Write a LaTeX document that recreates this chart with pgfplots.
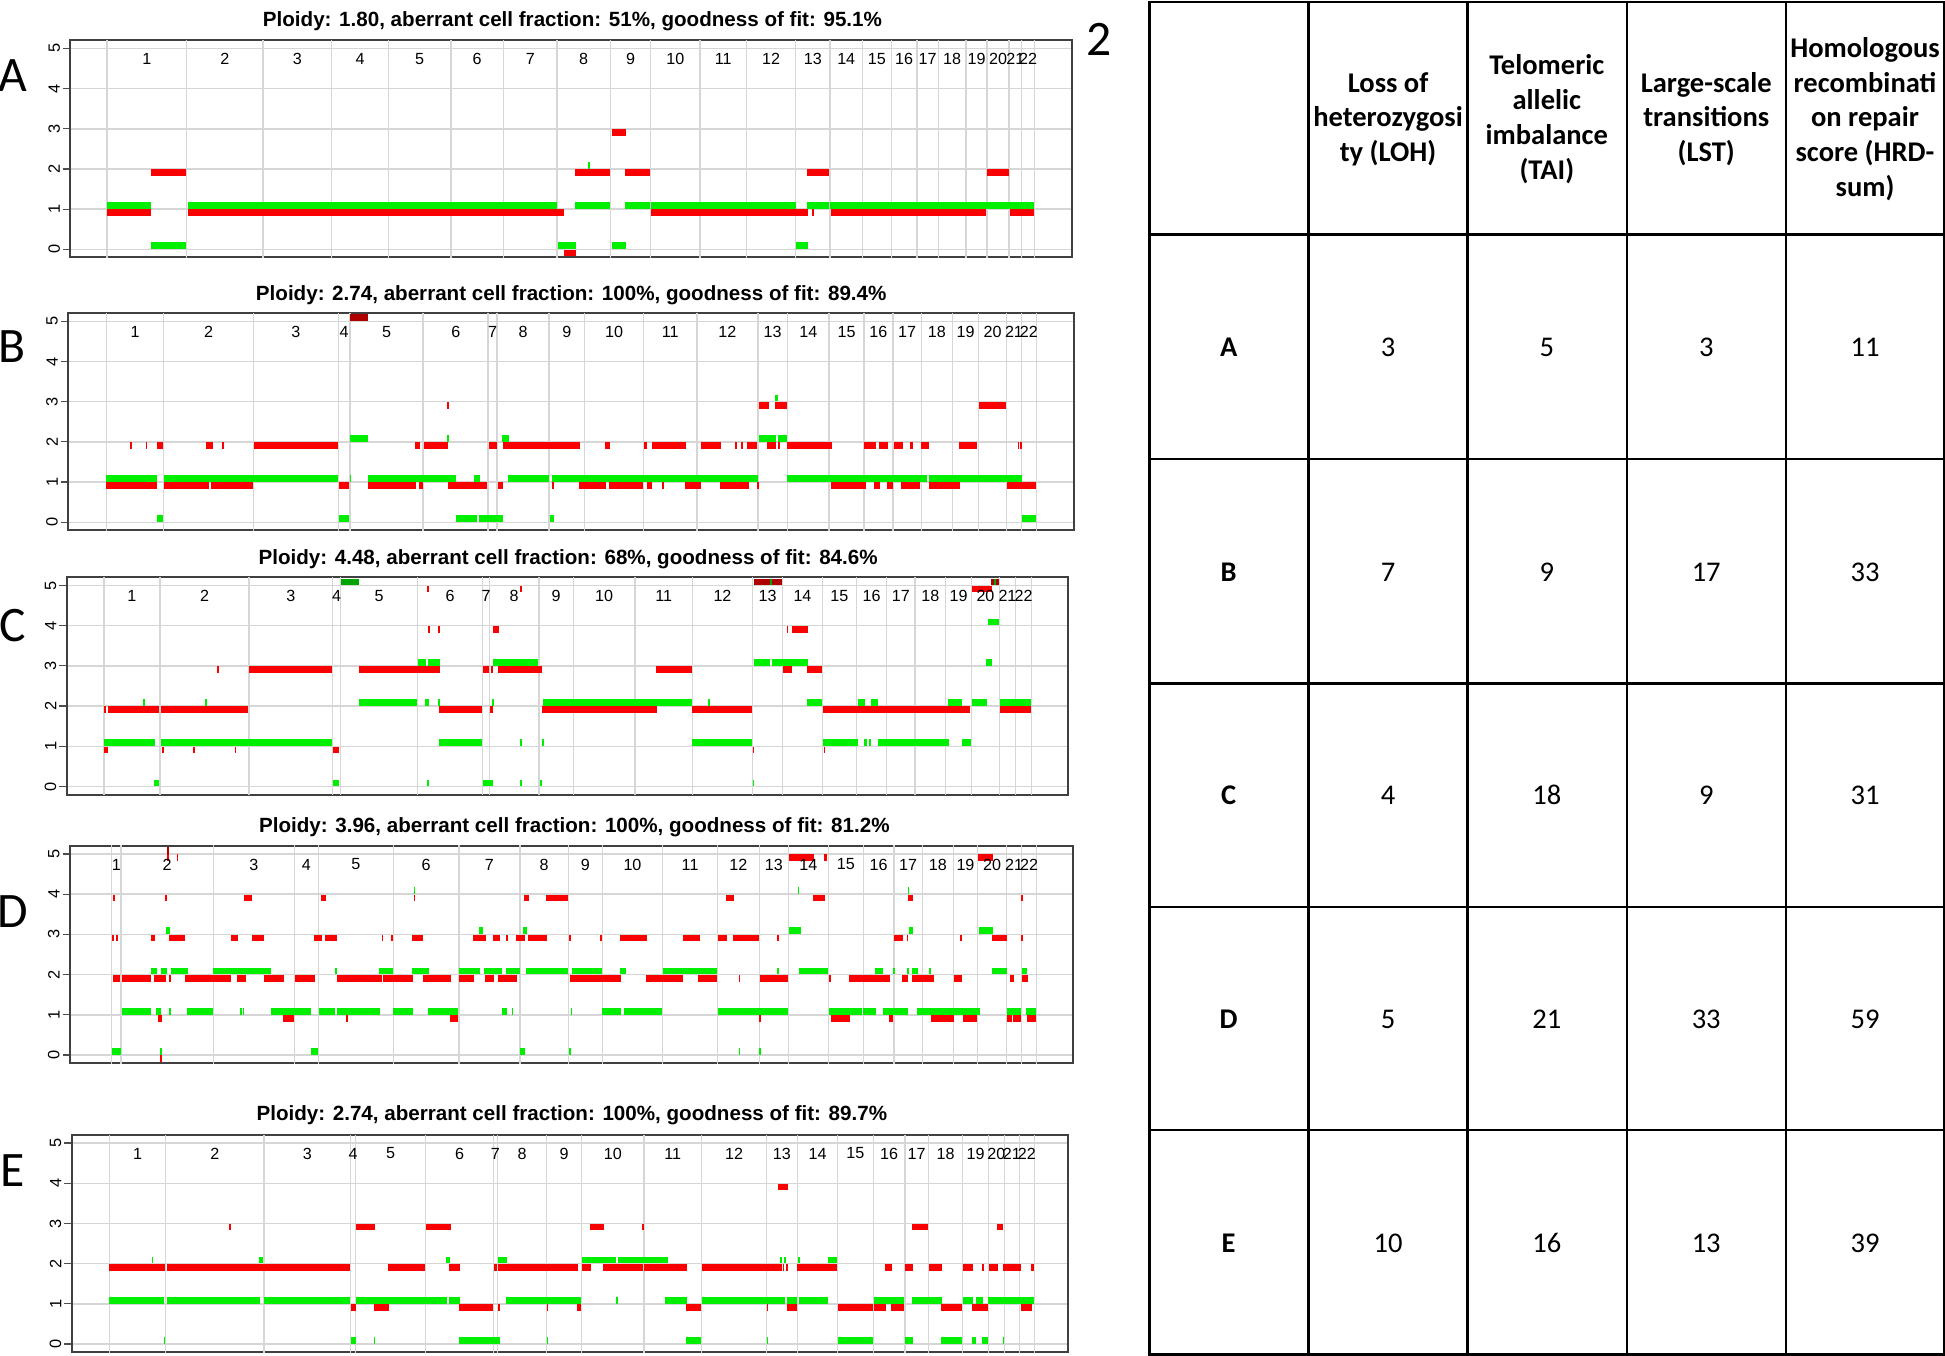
\documentclass[border=0pt]{standalone}
\usepackage{fontspec}
\usepackage{pgfplots}
\usepackage{pgfplotstable}
\pgfplotsset{compat=1.18}
\setmainfont{Liberation Sans}
\newfontfamily\calibri{Carlito}

\definecolor{cnred}{RGB}{250,0,0}
\definecolor{cngreen}{RGB}{0,238,0}
\definecolor{cndred}{RGB}{175,0,0}
\definecolor{cndgreen}{RGB}{0,165,0}
\definecolor{gridgray}{RGB}{214,214,214}

% ---------- chromosome boundaries (c = chromosome, s/e = start/end) ----------
\pgfplotstableread{
c s e
1 86.4 150.3
2 150.3 212.2
3 212.2 267.2
4 267.2 313.3
5 313.3 363.4
6 363.4 406.0
7 406.0 449.1
8 449.1 492.0
9 492.0 524.6
10 524.6 564.3
11 564.3 601.7
12 601.7 641.5
13 641.5 669.1
14 669.1 695.3
15 695.3 718.6
16 718.6 739.1
17 739.1 756.4
18 756.4 778.8
19 778.8 795.8
20 795.8 813.6
21 813.6 823.5
22 823.5 834.1
}\Alab
\pgfplotstableread{
c s e
1 85.8 131.9
2 131.9 204.4
3 204.4 272.7
4 272.7 282.2
5 282.2 341.2
6 341.2 393.6
7 393.6 400.8
8 400.8 442.5
9 442.5 471.3
10 471.3 518.8
11 518.8 562.0
12 562.0 610.9
13 610.9 634.8
14 634.8 668.5
15 668.5 696.5
16 696.5 719.8
17 719.8 742.8
18 742.8 767.9
19 767.9 788.9
20 788.9 811.4
21 811.4 823.5
22 823.5 835.5
}\Blab
\pgfplotstableread{
c s e
1 83.8 129.0
2 129.0 200.7
3 200.7 268.2
4 268.2 274.6
5 274.6 336.7
6 336.7 389.1
7 389.1 394.5
8 394.5 434.5
9 434.5 462.2
10 462.2 511.9
11 511.9 558.1
12 558.1 606.8
13 606.8 631.0
14 631.0 662.9
15 662.9 690.6
16 690.6 714.8
17 714.8 737.6
18 737.6 762.4
19 762.4 783.3
20 783.3 805.6
21 805.6 818.8
22 818.8 831.7
}\Clab
\pgfplotstableread{
c s e
1 90.0 97.6
2 97.6 172.0
3 172.0 237.3
4 237.3 256.6
5 256.6 317.1
6 317.1 370.0
7 370.0 419.2
8 419.2 458.2
9 458.2 485.6
10 485.6 534.2
11 534.2 578.5
12 578.5 612.1
13 612.1 635.5
14 635.5 667.8
15 667.8 696.0
16 696.0 720.7
17 720.7 743.5
18 743.5 768.5
19 768.5 788.2
20 788.2 811.5
21 811.5 823.6
22 823.6 835.7
}\Dlab
\pgfplotstableread{
c s e
1 88.1 133.6
2 133.6 212.8
3 212.8 282.7
4 282.7 286.7
5 286.7 343.2
6 343.2 397.7
7 397.7 401.0
8 401.0 440.7
9 440.7 468.9
10 468.9 519.2
11 519.2 565.6
12 565.6 618.0
13 618.0 642.8
14 642.8 675.3
15 675.3 704.0
16 704.0 729.6
17 729.6 748.4
18 748.4 776.1
19 776.1 796.8
20 796.8 809.7
21 809.7 821.7
22 821.7 833.8
}\Elab

% ---------- segments: a = start, b = end, v = copy number ----------
% panel A
\pgfplotstableread{
a b v
86.4 121.5 1
121.5 150.3 2
151.2 454.3 1
454.3 464.1 0
463.5 492.0 2
493.0 504.4 3
503.5 524.0 2
524.6 651.2 1
650.7 668.5 2
655.0 656.0 1
670.0 795.2 1
796.0 813.6 2
814.2 833.5 1
}\Ared
\pgfplotstableread{
a b v
86.4 121.5 1
121.5 150.3 0
151.2 449.1 1
449.7 464.1 0
463.5 492.0 1
474.2 475.2 2
493.0 504.4 0
503.5 524.0 1
524.6 641.5 1
642.0 651.2 0
650.7 668.5 1
669.1 833.5 1
}\Agreen
% panel B
\pgfplotstableread{
a b v
85.8 126.7 1
105.2 106.4 2
117.5 118.7 2
126.7 131.6 2
132.5 168.4 1
170.5 203.9 1
166.4 171.6 2
179.2 180.4 2
205.0 272.4 2
273.0 281.6 1
296.6 335.4 1
337.5 341.2 1
334.9 338.3 2
341.8 360.8 2
360.4 361.4 3
360.8 393.0 1
394.2 400.8 2
401.7 405.4 1
405.1 467.5 2
445.2 446.4 1
466.4 488.6 1
490.9 518.2 1
521.7 526.0 1
533.5 534.7 1
551.9 565.4 1
580.7 603.7 1
610.5 611.7 1
488.0 491.4 2
518.8 521.7 2
526.0 552.8 2
564.9 581.6 2
592.6 593.8 2
597.5 598.7 2
602.3 610.4 2
611.5 619.6 3
624.5 634.5 3
618.7 625.3 2
627.1 628.3 2
634.8 670.8 2
670.0 697.9 1
696.7 706.5 2
708.9 716.0 2
720.4 727.6 2
733.3 736.2 2
742.8 749.2 2
704.5 709.4 1
715.2 719.8 1
726.7 742.0 1
748.6 773.6 1
772.8 788.0 2
788.9 811.1 3
820.3 821.3 2
822.3 823.3 2
811.9 835.5 1
}\Bred
\pgfplotstableread{
a b v
85.8 126.7 1
126.7 131.6 0
132.5 272.4 1
273.0 281.6 0
281.8 282.8 1
282.2 296.6 2
296.6 368.0 1
360.4 361.4 2
368.0 384.4 0
386.4 405.4 0
382.4 387.3 1
404.8 410.3 2
409.4 442.8 1
443.4 446.3 0
445.4 610.9 1
611.5 625.3 2
626.8 634.5 2
624.8 626.8 3
634.8 747.7 1
748.6 823.5 1
824.0 835.5 0
}\Bgreen
\pgfplotstableread{
a b v
282.2 296.6 5
}\Bdred
% panel C
\pgfplotstableread{
a b v
84.1 87.3 1
84.2 85.2 2
86.8 128.5 2
129.5 200.2 2
130.6 131.6 1
155.9 156.9 1
189.2 190.2 1
175.0 176.2 3
201.0 268.0 3
268.7 273.6 1
289.4 354.7 3
345.0 346.0 4
353.2 354.2 4
344.4 345.4 5
354.2 388.6 2
389.7 394.0 3
395.0 397.7 2
397.7 402.0 4
396.2 397.6 3
401.7 437.2 3
419.4 420.4 5
436.7 529.4 2
528.8 557.6 3
558.1 606.0 2
606.8 607.8 1
638.2 651.1 4
634.2 635.2 4
631.0 638.7 3
650.6 662.4 3
663.7 782.0 2
664.0 665.0 1
783.3 799.4 5
806.2 831.2 2
}\Cred
\pgfplotstableread{
a b v
84.1 125.0 1
115.6 116.6 2
124.2 128.5 0
129.5 268.0 1
165.3 166.6 2
268.7 273.6 0
289.4 336.0 2
336.7 343.4 3
345.3 354.7 3
342.6 345.9 2
344.4 345.4 0
353.2 354.2 2
354.2 388.6 1
389.7 397.7 0
396.8 397.8 2
397.7 434.0 3
419.4 420.4 1
419.4 420.4 0
435.3 437.2 0
437.2 438.4 1
438.0 557.6 2
570.5 572.0 2
558.1 606.0 1
606.8 607.6 0
607.8 620.7 3
622.6 651.1 3
650.6 662.4 2
663.7 692.0 1
696.8 698.7 1
700.5 702.2 1
707.5 765.3 1
775.3 782.8 1
692.0 697.3 2
702.2 707.5 2
764.5 775.8 2
783.3 795.4 2
794.9 799.4 3
796.2 805.3 4
806.2 831.2 2
}\Cgreen
\pgfplotstableread{
a b v
607.8 630.1 5
798.9 805.3 5
}\Cdred
\pgfplotstableread{
a b v
274.6 289.7 5
621.0 622.4 5
801.5 802.8 5
}\Cdgreen
% panel D
\pgfplotstableread{
a b v
90.8 96.7 2
90.3 91.3 3
93.6 94.6 3
91.4 92.4 4
98.1 121.7 2
124.4 133.8 2
136.3 138.1 2
149.2 171.5 2
127.1 130.3 1
129.0 130.0 0
121.5 125.2 3
136.0 149.4 3
133.1 134.1 4
134.7 135.7 5
142.5 143.5 5
172.0 186.2 2
191.3 198.1 2
212.8 229.0 2
186.2 191.9 3
202.9 213.1 3
197.0 202.9 4
228.4 237.0 1
237.8 254.0 2
253.1 259.3 3
262.3 272.0 3
258.8 262.8 4
271.4 307.7 2
309.0 332.7 2
279.0 280.0 1
307.7 308.7 3
315.3 316.3 3
331.9 341.3 3
333.5 334.5 4
340.8 363.6 2
362.8 369.5 1
370.3 382.1 2
391.0 398.3 2
401.8 417.1 2
381.1 391.8 3
397.2 403.1 3
408.0 409.0 3
416.0 423.3 3
422.5 426.8 4
440.2 458.2 4
425.9 440.7 3
459.5 485.0 2
485.0 500.6 2
520.5 550.9 2
563.0 578.3 2
459.0 460.0 3
484.0 485.0 3
499.8 521.3 3
550.3 564.3 3
579.1 585.8 3
591.2 611.9 3
585.0 592.0 4
595.5 596.5 2
612.2 613.2 1
612.7 635.0 2
626.5 627.5 3
636.3 656.2 5
664.3 667.0 5
655.1 665.1 4
668.6 669.6 2
669.9 685.2 1
684.7 717.5 2
726.9 731.7 2
735.0 749.7 2
717.0 720.2 1
721.0 728.2 3
731.0 732.0 3
731.7 736.3 4
750.5 769.3 1
776.1 787.9 1
812.1 815.6 1
816.9 823.1 1
827.7 835.2 1
749.2 753.2 2
769.1 775.8 2
814.2 817.4 2
823.6 828.5 2
774.2 775.2 3
800.0 811.5 3
823.1 824.1 3
823.1 824.1 4
788.7 800.8 5
}\Dred
\pgfplotstableread{
a b v
90.0 97.3 0
98.1 121.7 1
125.5 129.8 1
136.3 138.1 1
151.0 171.5 1
129.0 130.0 0
121.5 126.3 2
129.8 134.4 2
137.6 151.6 2
133.6 136.8 3
172.0 218.5 2
193.5 194.5 1
195.5 196.7 1
218.5 237.0 1
237.0 250.7 1
250.5 256.1 0
257.2 270.1 1
271.4 306.4 1
270.0 271.0 2
305.6 316.6 2
331.9 346.1 2
317.1 332.7 1
345.3 369.5 1
333.5 334.5 4
370.3 387.0 2
390.2 405.0 2
408.0 419.2 2
386.4 389.7 3
404.4 408.5 1
412.5 413.5 1
419.2 423.3 0
421.9 424.6 3
424.1 458.2 2
460.8 485.0 2
460.0 461.0 1
459.0 460.0 0
485.6 500.6 1
503.3 533.9 1
499.8 504.4 2
534.7 578.3 2
579.1 635.0 1
595.5 596.5 0
612.2 613.2 0
626.1 628.0 2
636.3 645.5 3
643.1 644.1 4
644.4 667.2 2
668.3 695.2 1
696.0 705.9 1
711.6 731.7 1
739.5 743.0 1
705.4 712.1 2
720.2 721.2 2
731.2 732.2 2
735.0 740.3 2
749.2 750.2 2
732.8 736.3 3
731.8 732.8 4
743.0 790.0 1
812.1 823.1 1
826.9 835.2 1
800.0 811.5 2
823.6 827.7 2
789.2 800.8 3
}\Dgreen
\pgfplotstableread{
a b v
134.7 135.9 5
}\Ddred
% panel E
\pgfplotstableread{
a b v
88.1 133.0 2
134.4 282.2 2
185.0 186.0 3
282.7 286.7 1
287.0 302.3 3
301.5 313.6 1
313.1 342.9 2
343.4 363.3 3
362.3 370.8 2
370.0 397.2 1
398.3 401.0 2
401.6 402.6 1
401.8 466.2 2
440.8 441.8 1
464.9 468.4 1
468.9 476.2 2
486.4 518.6 2
519.2 554.1 2
475.6 486.9 3
517.6 518.6 3
553.0 564.8 1
565.6 630.1 2
631.0 632.0 2
633.7 634.7 2
618.1 619.1 1
627.4 635.0 4
634.2 642.2 1
642.8 674.5 2
675.3 704.0 1
704.6 714.3 1
718.0 729.0 1
713.5 718.8 2
729.6 735.8 2
749.0 759.7 2
776.6 784.7 2
791.7 792.7 2
797.3 804.3 2
808.9 823.1 2
831.2 833.6 2
735.0 748.4 3
803.5 808.9 3
758.6 775.3 1
783.9 796.2 1
823.1 831.7 1
}\Ered
\pgfplotstableread{
a b v
88.1 132.2 1
122.3 123.3 2
132.0 133.0 0
134.4 209.6 1
212.8 282.2 1
209.1 212.3 2
282.7 286.7 0
287.0 360.6 1
362.3 370.8 1
301.3 302.3 0
359.6 362.8 2
370.0 403.1 0
401.8 408.5 2
408.0 468.4 1
440.8 441.8 0
468.9 496.6 2
497.9 538.8 2
496.6 497.6 1
536.1 554.1 1
553.0 564.8 0
565.6 632.8 1
634.7 642.2 1
644.4 667.8 1
618.1 619.1 0
628.8 629.8 2
632.3 633.3 2
643.6 644.6 2
667.2 674.5 2
675.3 704.0 0
704.6 729.0 1
729.6 735.8 0
735.0 759.1 1
776.6 784.7 1
786.6 792.7 1
796.8 833.8 1
758.6 775.3 0
783.9 786.6 0
791.4 796.2 0
808.4 809.4 0
}\Egreen

% ---------- helpers ----------
% one horizontal bar per table row, drawn as a thick x error bar
\newcommand\seg[3]{\addplot[draw=none, mark=none,
    error bars/.cd, x dir=both, x explicit, error mark=none,
    error bar style={draw=#1, line width=2.7pt}]
  table[x expr=(\thisrow{a}+\thisrow{b})/2, y expr=\thisrow{v}+(#2),
        x error expr=(\thisrow{b}-\thisrow{a})/2] {#3};}
% vertical grid lines at chromosome starts and ends
\newcommand\vgrid[1]{%
  \addplot[draw=none, mark=none, error bars/.cd, y dir=both, y fixed=3,
    error mark=none, error bar style={draw=gridgray, line width=0.6pt}]
    table[x=s, y expr=2.5] {#1};
  \addplot[draw=none, mark=none, error bars/.cd, y dir=both, y fixed=3,
    error mark=none, error bar style={draw=gridgray, line width=0.6pt}]
    table[x=e, y expr=2.5] {#1};}
% chromosome numbers
\newcommand\chrlab[1]{\addplot[draw=none, mark=none, point meta=explicit symbolic,
    nodes near coords, nodes near coords style={anchor=center, inner sep=0pt,
    font=\fontsize{6.5}{7}\selectfont, text=black}]
  table[x expr=(\thisrow{s}+\thisrow{e})/2, y expr=4.74, meta=c] {#1};}

\pgfplotsset{
  cnplot/.style={
    scale only axis, height=87.5pt, anchor=south west,
    ymin=-0.2, ymax=5.2, ytick={0,1,2,3,4,5}, xtick=\empty,
    ymajorgrids, major grid style={draw=gridgray, line width=0.6pt},
    ytick pos=left, ytick align=outside, major tick length=3pt,
    tick style={draw=black!70, line width=0.5pt},
    yticklabel style={rotate=90, anchor=south, inner sep=1pt,
      font=\fontsize{6.6}{7}\selectfont},
    /pgf/number format/assume math mode=true,
    axis line style={draw=black!75, line width=0.8pt},
  },
}

\begin{document}
\begin{tikzpicture}
\begin{scope}[x=0.5pt, y=-0.5pt]
\useasboundingbox (0,0) rectangle (1568,1093);
% titles
\begin{scope}[every node/.style={font=\bfseries\fontsize{8.3}{10}\selectfont}]
\node at (461.5,17) {Ploidy: 1.80, aberrant cell fraction: 51\%, goodness of fit: 95.1\%};
\node at (460.5,238) {Ploidy: 2.74, aberrant cell fraction: 100\%, goodness of fit: 89.4\%};
\node at (458,451) {Ploidy: 4.48, aberrant cell fraction: 68\%, goodness of fit: 84.6\%};
\node at (463,667) {Ploidy: 3.96, aberrant cell fraction: 100\%, goodness of fit: 81.2\%};
\node at (461,899) {Ploidy: 2.74, aberrant cell fraction: 100\%, goodness of fit: 89.7\%};
\end{scope}
% panel letters
\begin{scope}[every node/.style={font=\calibri\fontsize{20}{24}\selectfont, inner sep=0pt}]
\node at (10,61) {A};
\node at (10,279) {B};
\node at (10,504) {C};
\node at (10,735) {D};
\node at (10,944) {E};
\node at (886,32) {2};
\end{scope}
% table
\draw[line width=1pt] (926.5,1.5) rectangle (1567,1092);
\foreach \x in {1054.8,1183.1,1311.5,1439.7} \draw[line width=1pt] (\x,1.5) -- (\x,1092);
\foreach \y in {189,370,551,731,911} \draw[line width=1pt] (926.5,\y) -- (1567,\y);
\begin{scope}[every node/.style={align=center, font=\calibri\bfseries\fontsize{11.5}{14}\selectfont}]
\node at (1119,96) {Loss of\\heterozygosi\\ty (LOH)};
\node at (1247,96) {Telomeric\\allelic\\imbalance\\(TAI)};
\node at (1375.5,96) {Large-scale\\transitions\\(LST)};
\node at (1503.5,96) {Homologous\\recombinati\\on repair\\score (HRD-\\sum)};
\node at (990.5,280) {A};
\node at (990.5,461) {B};
\node at (990.5,641) {C};
\node at (990.5,822) {D};
\node at (990.5,1002) {E};
\end{scope}
\begin{scope}[every node/.style={font=\calibri\fontsize{11.5}{14}\selectfont}]
\node at (1119,280) {3};  \node at (1247,280) {5};  \node at (1375.5,280) {3};  \node at (1503.5,280) {11};
\node at (1119,461) {7};  \node at (1247,461) {9};  \node at (1375.5,461) {17}; \node at (1503.5,461) {33};
\node at (1119,641) {4};  \node at (1247,641) {18}; \node at (1375.5,641) {9};  \node at (1503.5,641) {31};
\node at (1119,822) {5};  \node at (1247,822) {21}; \node at (1375.5,822) {33}; \node at (1503.5,822) {59};
\node at (1119,1002) {10};\node at (1247,1002) {16};\node at (1375.5,1002) {13};\node at (1503.5,1002) {39};
\end{scope}
\end{scope}

% panel A
\begin{axis}[cnplot, at={(28.35pt,-103.75pt)}, width=403.8pt, xmin=56.7, xmax=864.3]
\vgrid{\Alab}
\seg{cnred}{-0.09}{\Ared}
\seg{cngreen}{0.09}{\Agreen}
\chrlab{\Alab}
\end{axis}
% panel B
\begin{axis}[cnplot, at={(27.5pt,-213.75pt)}, width=405.4pt, xmin=55.0, xmax=865.8]
\vgrid{\Blab}
\seg{cnred}{-0.09}{\Bred}
\seg{cngreen}{0.09}{\Bgreen}
\seg{cndred}{0.09}{\Bdred}
\chrlab{\Blab}
\end{axis}
% panel C
\begin{axis}[cnplot, at={(26.9pt,-320.25pt)}, width=403.7pt, xmin=53.8, xmax=861.2]
\vgrid{\Clab}
\seg{cnred}{-0.09}{\Cred}
\seg{cngreen}{0.09}{\Cgreen}
\seg{cndred}{0.09}{\Cdred}
\seg{cndgreen}{0.09}{\Cdgreen}
\chrlab{\Clab}
\end{axis}
% panel D
\begin{axis}[cnplot, at={(28.2pt,-428.5pt)}, width=404.45pt, xmin=56.4, xmax=865.3]
\vgrid{\Dlab}
\seg{cnred}{-0.09}{\Dred}
\seg{cngreen}{0.09}{\Dgreen}
\seg{cndred}{0.09}{\Ddred}
\chrlab{\Dlab}
\end{axis}
% panel E
\begin{axis}[cnplot, at={(28.9pt,-545pt)}, width=401.7pt, xmin=57.8, xmax=861.2]
\vgrid{\Elab}
\seg{cnred}{-0.09}{\Ered}
\seg{cngreen}{0.09}{\Egreen}
\chrlab{\Elab}
\end{axis}
\end{tikzpicture}
\end{document}
